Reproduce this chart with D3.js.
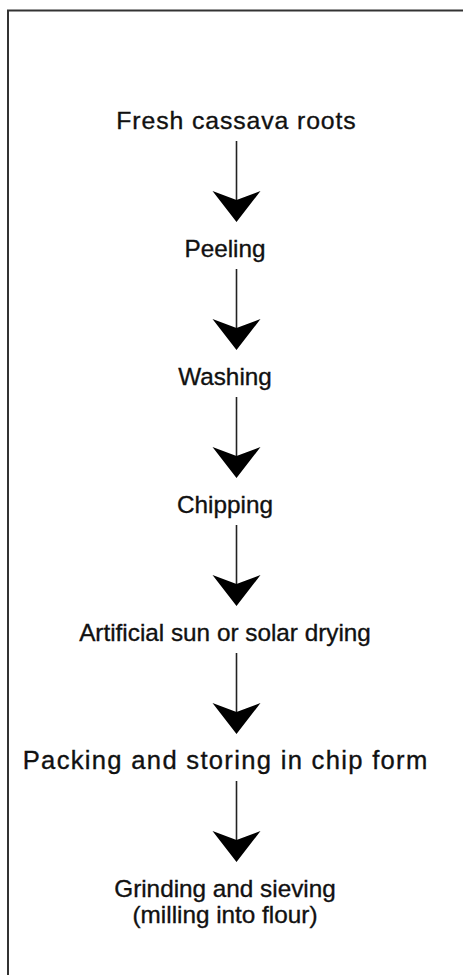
<!DOCTYPE html>
<html>
<head>
<meta charset="utf-8">
<script src="https://cdn.jsdelivr.net/npm/d3@7"></script>
<style>
  html, body { margin: 0; padding: 0; background: #fff; }
  svg { display: block; }
</style>
</head>
<body>
<script>
// process steps, top to bottom (a step may wrap onto several lines)
var steps = [
    ['Fresh cassava roots'],
    ['Peeling'],
    ['Washing'],
    ['Chipping'],
    ['Artificial sun or solar drying'],
    ['Packing and storing in chip form'],
    ['Grinding and sieving', '(milling into flour)']
];
var stepIds = steps.map(function(d, i) { return i; });

var width = 463;
var height = 975;

// the scan sets a couple of lines a little larger / looser / off-centre
var fontPx = {0: 24.8, 5: 25.6};
var tracking = {0: 0.9, 5: 1.3};
var nudge = {0: 11};

var svg = d3.select('body').append('svg')
    .attr('width', width)
    .attr('height', height);

// frame, runs off the right and bottom edges
svg.append('path')
    .attr('d', 'M8,' + height + 'V10.5H' + (width + 2))
    .attr('fill', 'none')
    .attr('stroke', '#333')
    .attr('stroke-width', 2);

// baseline of each step label
var y = d3.scalePoint()
    .domain(stepIds)
    .range([129, 897]);

var textX = 225;
var arrowX = 236.5;
var lineGap = 26;

var labels = svg.selectAll('text.step')
    .data(steps)
  .enter().append('text')
    .classed('step', true)
    .attr('y', function(d, i) { return y(i); })
    .attr('text-anchor', 'middle')
    .style('font-family', '"Liberation Sans", Arial, Helvetica, sans-serif')
    .style('font-size', function(d, i) { return (fontPx[i] || 24.3) + 'px'; })
    .style('letter-spacing', function(d, i) { return (tracking[i] || 0) + 'px'; })
    .style('fill', '#111')
    .style('stroke', '#111')
    .style('stroke-width', 0.35);

labels.each(function(d, i) {
    var cx = textX + (nudge[i] || 0) + (tracking[i] || 0) / 2;
    d3.select(this).selectAll('tspan')
        .data(d)
      .enter().append('tspan')
        .attr('x', cx)
        .attr('dy', function(t, j) { return j ? lineGap : 0; })
        .text(function(t) { return t; });
});

// one arrow between each pair of consecutive steps
var links = d3.pairs(stepIds);

var gArrows = svg.selectAll('g.arrow')
    .data(links)
  .enter().append('g')
    .classed('arrow', true);

gArrows.append('line')
    .attr('x1', arrowX)
    .attr('x2', arrowX)
    .attr('y1', function(d) { return y(d[0]) + 12; })
    .attr('y2', function(d) { return y(d[1]) - 45; })
    .attr('stroke', '#222')
    .attr('stroke-width', 1.6);

gArrows.append('path')
    .attr('d', function(d) {
        var tip = y(d[1]) - 35;
        var back = tip - 31;
        return 'M' + (arrowX - 24) + ',' + back +
            'L' + arrowX + ',' + (back + 9) +
            'L' + (arrowX + 24) + ',' + back +
            'L' + arrowX + ',' + tip + 'Z';
    })
    .attr('fill', '#000');
</script>
</body>
</html>
